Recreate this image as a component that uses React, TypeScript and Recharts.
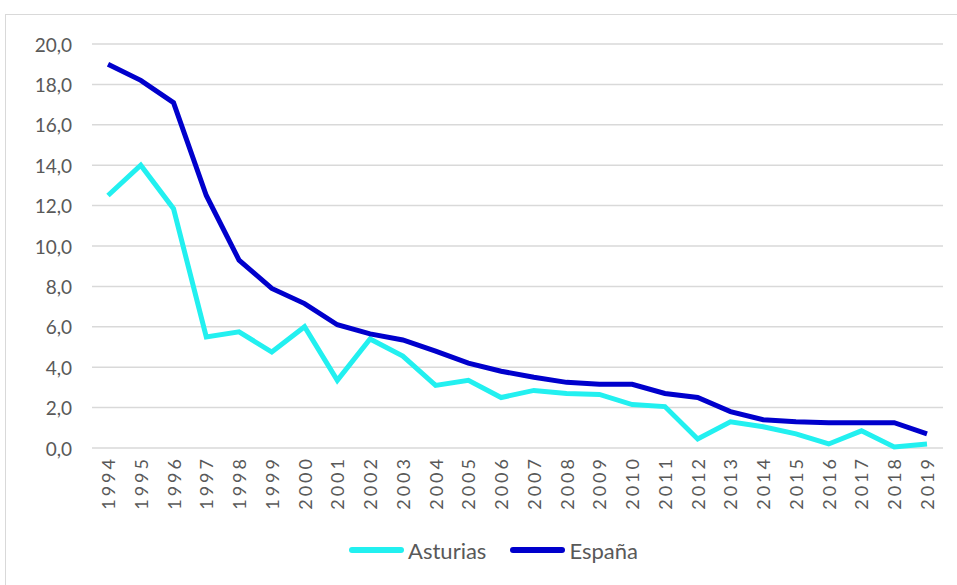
import { LineChart, Line, XAxis, YAxis, CartesianGrid, Legend } from "recharts";

const years = [
    "1994", "1995", "1996", "1997", "1998", "1999", "2000", "2001", "2002",
    "2003", "2004", "2005", "2006", "2007", "2008", "2009", "2010", "2011",
    "2012", "2013", "2014", "2015", "2016", "2017", "2018", "2019",
];

const asturias = [
    12.5, 14.0, 11.85, 5.5, 5.75, 4.75, 6.0, 3.35, 5.4,
    4.55, 3.1, 3.35, 2.5, 2.85, 2.7, 2.65, 2.15, 2.05,
    0.45, 1.3, 1.05, 0.7, 0.2, 0.85, 0.05, 0.2,
];

const espana = [
    19.0, 18.2, 17.1, 12.5, 9.3, 7.9, 7.15, 6.1, 5.65,
    5.35, 4.8, 4.2, 3.8, 3.5, 3.25, 3.15, 3.15, 2.7,
    2.5, 1.8, 1.4, 1.3, 1.25, 1.25, 1.25, 0.7,
];

const yTicks = [0, 2, 4, 6, 8, 10, 12, 14, 16, 18, 20];

const series = [
    { key: "Asturias", color: "#22f0f0" },
    { key: "España", color: "#0000cc" },
];

const data = years.map((year, i) => ({
    year,
    Asturias: asturias[i],
    España: espana[i],
}));

const FONT = "Lato, 'Open Sans', sans-serif";
const TEXT = "#595959";

function YearTick({ x, y, payload }: any) {
    return (
        <text
            x={x}
            y={y}
            transform={`rotate(-90, ${x}, ${y})`}
            textAnchor="end"
            dominantBaseline="central"
            fontFamily={FONT}
            fontSize={18}
            letterSpacing={3}
            fill={TEXT}
        >
            {payload.value}
        </text>
    );
}

function ValueTick({ x, y, payload }: any) {
    return (
        <text
            x={x - 12}
            y={y}
            textAnchor="end"
            dominantBaseline="central"
            fontFamily={FONT}
            fontSize={19}
            fill={TEXT}
        >
            {payload.value.toFixed(1).replace(".", ",")}
        </text>
    );
}

function LegendBox() {
    return (
        <div style={{ height: 62, display: "flex", justifyContent: "center", paddingTop: 16, paddingLeft: 62, boxSizing: "border-box", fontFamily: FONT, fontSize: 22, color: TEXT }}>
            {series.map((s) => (
                <div key={s.key} style={{ display: "flex", alignItems: "center", marginRight: 24, height: 22 }}>
                    <span style={{ display: "inline-block", width: 55, height: 6, borderRadius: 3, background: s.color, marginRight: 4 }} />
                    <span>{s.key}</span>
                </div>
            ))}
        </div>
    );
}

export default function App() {
    return (
        <div style={{ position: "absolute", left: 5, top: 14, width: 952, height: 575, border: "1px solid #d9d9d9", background: "#fff" }}>
            <LineChart width={950} height={570} data={data} margin={{ top: 29, right: 13, left: 0, bottom: 0 }}>
                <CartesianGrid vertical={false} stroke="#d9d9d9" strokeWidth={1.5} />
                <XAxis
                    dataKey="year"
                    interval={0}
                    padding={{ left: 16, right: 16 }}
                    height={75}
                    axisLine={false}
                    tickLine={false}
                    tick={<YearTick />}
                />
                <YAxis
                    domain={[0, 20]}
                    ticks={yTicks}
                    width={86}
                    axisLine={false}
                    tickLine={false}
                    tick={<ValueTick />}
                />
                <Legend verticalAlign="bottom" content={<LegendBox />} />
                {series.map((s) => (
                    <Line
                        key={s.key}
                        type="linear"
                        dataKey={s.key}
                        stroke={s.color}
                        strokeWidth={5}
                        dot={false}
                        isAnimationActive={false}
                    />
                ))}
            </LineChart>
        </div>
    );
}
